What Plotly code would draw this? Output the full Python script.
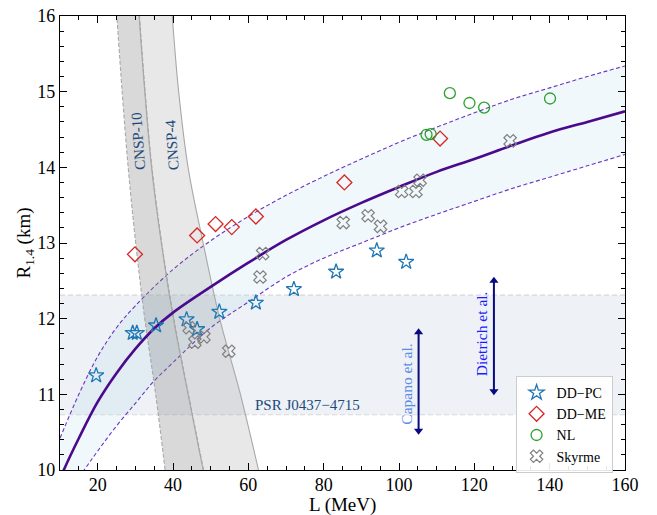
import plotly.graph_objects as go

# ---------------- data ----------------
dd_pc_L = [19.6, 29.3, 30.4, 35.5, 43.6, 46.4, 52.3, 62.0, 72.1, 83.3, 94.1, 101.9]
dd_pc_R = [11.25, 11.81, 11.81, 11.91, 11.99, 11.86, 12.09, 12.21, 12.39, 12.62, 12.90, 12.75]

dd_me_L = [29.9, 46.4, 51.3, 55.6, 62.0, 85.5, 110.9]
dd_me_R = [12.85, 13.10, 13.25, 13.21, 13.35, 13.80, 14.38]

nl_L = [107.3, 108.4, 113.5, 118.7, 122.6, 140.1]
nl_R = [14.43, 14.44, 14.98, 14.85, 14.79, 14.91]

sky_L = [44.3, 45.8, 48.2, 54.8, 63.1, 63.8, 85.2, 91.8, 95.1, 100.7, 104.5, 105.6, 129.5]
sky_R = [11.88, 11.69, 11.76, 11.57, 12.55, 12.86, 13.27, 13.36, 13.22, 13.68, 13.68, 13.83, 14.35]

# fit curve and its band
fit_L = [10.0, 11.0, 15, 20, 25, 30, 35, 40, 50, 60, 70, 80, 90, 100, 110, 120, 130, 140, 150, 160]
fit_R = [9.88, 10.0, 10.42, 10.9, 11.28, 11.6, 11.87, 12.08, 12.42, 12.74, 13.04, 13.3, 13.53, 13.74, 13.94, 14.11, 14.29, 14.46, 14.6, 14.74]

up_L = [10, 15, 20, 25, 30, 40, 50, 60, 70, 80, 90, 100, 110, 120, 130, 140, 150, 160]
up_R = [10.42, 11.0, 11.5, 11.88, 12.17, 12.65, 13.03, 13.35, 13.63, 13.88, 14.11, 14.33, 14.53, 14.72, 14.9, 15.05, 15.2, 15.34]

lo_L = [10, 16.4, 20, 24.8, 30, 34.5, 40, 50, 60, 70, 80, 90, 100, 110, 120, 130, 140, 150, 160]
lo_R = [9.55, 10.0, 10.25, 10.57, 10.88, 11.15, 11.42, 11.88, 12.22, 12.55, 12.8, 13.0, 13.2, 13.38, 13.55, 13.72, 13.87, 14.02, 14.17]

# CNSP bands (edges as L at given R)
cnsp_R = [10, 11, 12, 13, 14, 15, 16]
cnsp10_left = [37.9, 35.4, 32.5, 30.1, 28.1, 26.5, 25.1]
cnsp10_right = [48.1, 44.1, 40.2, 37.0, 34.4, 32.6, 31.1]
cnsp4_left = [48.0, 44.0, 40.1, 36.9, 34.3, 32.5, 31.0]
cnsp4_right = [62.7, 57.9, 52.4, 48.0, 44.0, 41.5, 39.8]

# PSR J0437-4715 band
psr_lo, psr_hi = 10.73, 12.31

# measurement arrows (L, lower, upper)
capano_L, capano_lo, capano_hi = 105.2, 10.52, 11.82
dietrich_L, dietrich_lo, dietrich_hi = 125.2, 11.04, 12.50

FONT = "Liberation Serif"

fig = go.Figure()

# blue band between dashed curves
band_dash = dict(color="#6a35c0", width=1.1, dash="4px,2.5px", shape="spline")
fig.add_trace(go.Scatter(x=lo_L, y=lo_R, mode="lines", line=band_dash,
                         showlegend=False, hoverinfo="skip"))
fig.add_trace(go.Scatter(x=up_L, y=up_R, mode="lines", line=band_dash,
                         fill="tonexty", fillcolor="rgba(173,216,235,0.18)",
                         showlegend=False, hoverinfo="skip"))

# CNSP-10 (dashed edges, darker)
c10_line = dict(color="#a8a8a8", width=1.1, dash="4px,2px", shape="spline")
fig.add_trace(go.Scatter(x=cnsp10_left, y=cnsp_R, mode="lines", line=c10_line,
                         showlegend=False, hoverinfo="skip"))
fig.add_trace(go.Scatter(x=cnsp10_right, y=cnsp_R, mode="lines", line=c10_line,
                         fill="tonexty", fillcolor="rgba(140,140,140,0.33)",
                         showlegend=False, hoverinfo="skip"))
# CNSP-4 (solid edges, lighter)
c4_line = dict(color="#a8a8a8", width=1.1, shape="spline")
fig.add_trace(go.Scatter(x=cnsp4_left, y=cnsp_R, mode="lines", line=c4_line,
                         showlegend=False, hoverinfo="skip"))
fig.add_trace(go.Scatter(x=cnsp4_right, y=cnsp_R, mode="lines", line=c4_line,
                         fill="tonexty", fillcolor="rgba(140,140,140,0.2)",
                         showlegend=False, hoverinfo="skip"))

# fit curve
fig.add_trace(go.Scatter(x=fit_L, y=fit_R, mode="lines",
                         line=dict(color="#4b0a8c", width=2.6, shape="spline"),
                         showlegend=False, hoverinfo="skip"))

# measurement arrows
for aL, alo, ahi in ((capano_L, capano_lo, capano_hi), (dietrich_L, dietrich_lo, dietrich_hi)):
    fig.add_trace(go.Scatter(x=[aL, aL], y=[alo, ahi], mode="lines+markers",
                             line=dict(color="#0a0a80", width=2),
                             marker=dict(symbol=["triangle-down", "triangle-up"], size=8,
                                         color="#0a0a80"),
                             showlegend=False, hoverinfo="skip", cliponaxis=False))

# markers
fig.add_trace(go.Scatter(x=dd_pc_L, y=dd_pc_R, mode="markers", name="DD\u2212PC",
                         marker=dict(symbol="star-open", size=11.5, color="#1f77b4",
                                     line=dict(width=1.3, color="#1f77b4"))))
fig.add_trace(go.Scatter(x=dd_me_L, y=dd_me_R, mode="markers", name="DD\u2212ME",
                         marker=dict(symbol="diamond-open", size=11.5, color="#d62728",
                                     line=dict(width=1.3, color="#d62728"))))
fig.add_trace(go.Scatter(x=nl_L, y=nl_R, mode="markers", name="NL",
                         marker=dict(symbol="circle-open", size=11, color="#2ca02c",
                                     line=dict(width=1.3, color="#2ca02c"))))
fig.add_trace(go.Scatter(x=sky_L, y=sky_R, mode="markers", name="Skyrme",
                         marker=dict(symbol="x-open", size=11, color="#7f7f7f",
                                     line=dict(width=1.2, color="#7f7f7f"))))

# PSR band shape
fig.add_shape(type="rect", xref="paper", x0=0, x1=1, yref="y", y0=psr_lo, y1=psr_hi,
              fillcolor="rgba(176,190,215,0.22)", line=dict(width=0), layer="below")
for yv in (psr_lo, psr_hi):
    fig.add_shape(type="line", xref="paper", x0=0, x1=1, yref="y", y0=yv, y1=yv,
                  line=dict(color="#d8d8d8", width=1.2, dash="5px,3px"), layer="below")

annots = [
    dict(x=75.8, y=10.86, text="PSR J0437\u22124715", showarrow=False,
         font=dict(family=FONT, size=15, color="#1c4a7a")),
    dict(x=30.7, y=14.35, text="CNSP-10", showarrow=False, textangle=-94,
         font=dict(family=FONT, size=15, color="#1c4a7a")),
    dict(x=39.6, y=14.3, text="CNSP-4", showarrow=False, textangle=-94,
         font=dict(family=FONT, size=15, color="#1c4a7a")),
    dict(x=101.9, y=11.13, text="Capano et al.", showarrow=False, textangle=-90,
         font=dict(family=FONT, size=15.5, color="#5b8be8")),
    dict(x=121.9, y=11.80, text="Dietrich et al.", showarrow=False, textangle=-90,
         font=dict(family=FONT, size=15.5, color="#1a1aff")),
    # x-axis title placed explicitly below the tick labels
    dict(xref="paper", yref="paper", x=0.5, y=-0.078, yanchor="middle",
         text="L (MeV)", showarrow=False,
         font=dict(family=FONT, size=19, color="black")),
]
fig.update_layout(annotations=annots)

axis_common = dict(showline=True, linecolor="black", linewidth=1.2, mirror="allticks",
                   ticks="inside", ticklen=7, tickwidth=1.2, tickcolor="black",
                   showgrid=False, zeroline=False, automargin=False,
                   ticklabeloverflow="allow",
                   tickfont=dict(family=FONT, size=18, color="black"))
fig.update_xaxes(range=[10, 160], tick0=0, dtick=20, ticklabelstandoff=-2,
                 minor=dict(dtick=5, ticks="inside", ticklen=3.5, tickcolor="black", tickwidth=1),
                 **axis_common)
fig.update_yaxes(range=[10, 16], tick0=10, dtick=1,
                 minor=dict(dtick=0.2, ticks="inside", ticklen=3.5, tickcolor="black", tickwidth=1),
                 title=dict(text="R<sub>1.4</sub> (km)", font=dict(family=FONT, size=19, color="black"), standoff=0),
                 **axis_common)

fig.update_layout(
    width=657, height=515,
    margin=dict(l=60, r=32, t=16, b=45, autoexpand=False),
    plot_bgcolor="white", paper_bgcolor="white",
    font=dict(family=FONT),
    legend=dict(x=0.978, y=0.207, xanchor="right", yanchor="top", traceorder="normal",
                bgcolor="rgba(255,255,255,0.9)", bordercolor="#cccccc", borderwidth=1,
                font=dict(family=FONT, size=14, color="black"),
                itemwidth=30, tracegroupgap=0),
    showlegend=True,
)

# remove the browser's default page margin so the 657x515 figure fills the window
fig.write_html("out.html", config={"displayModeBar": False},
               post_script="document.body.style.margin='0';")
